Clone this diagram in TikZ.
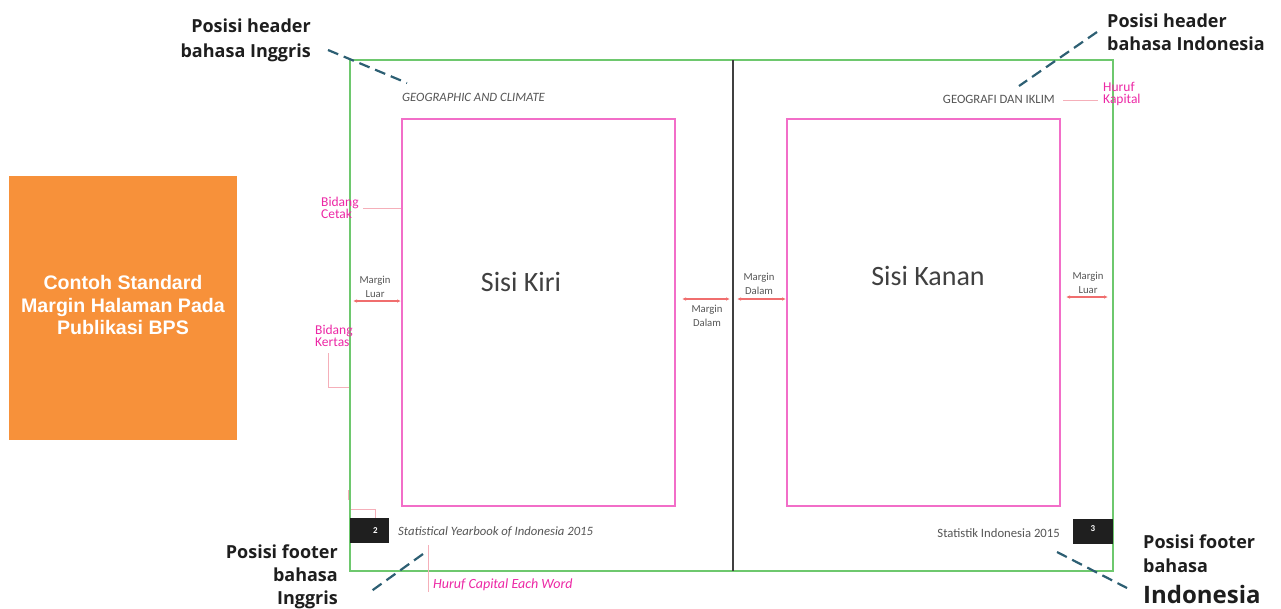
\documentclass[tikz,border=0pt]{standalone}
\usepackage{fontspec}
\usepackage{xcolor}
\usetikzlibrary{arrows.meta,positioning}
\setmainfont{Carlito}
\newfontfamily\calloutfont{Open Sans}
\newfontfamily\panelfont{Liberation Sans}
\definecolor{bpsorange}{RGB}{247,145,58}
\definecolor{pagegreen}{RGB}{110,200,110}
\definecolor{areapink}{RGB}{242,110,200}
\definecolor{notepink}{RGB}{236,40,165}
\definecolor{arrowred}{RGB}{240,110,110}
\definecolor{leadpink}{RGB}{245,175,185}
\definecolor{dashteal}{RGB}{45,95,115}
\definecolor{inkgray}{RGB}{85,85,85}
\definecolor{callink}{RGB}{30,30,30}

\begin{document}
\begin{tikzpicture}[x=1pt,y=-1pt,
    callout/.style={font=\calloutfont\bfseries\fontsize{18}{24}\selectfont, text=callink, inner sep=0pt},
    pointer/.style={dashteal, line width=2.2pt, dash pattern=on 11pt off 6pt},
    note/.style={font=\fontsize{13.5}{12.5}\selectfont, text=notepink, inner sep=0pt, align=left},
    small/.style={font=\fontsize{10.7}{14}\selectfont, text=inkgray, inner sep=0pt, align=center},
    running/.style={font=\fontsize{12.7}{14}\selectfont, text=inkgray, inner sep=0pt},
    margin/.style={arrowred, line width=1.1pt, {Latex[length=4pt,width=3.5pt]}-{Latex[length=4pt,width=3.5pt]}},
    lead/.style={leadpink, line width=0.7pt},
    folio/.style={fill=black!88, text=white, font=\bfseries\fontsize{9}{9}\selectfont, inner sep=0pt}]
    \useasboundingbox (0,0) rectangle (1281,608);

    % Title panel
    \node[fill=bpsorange, minimum width=228pt, minimum height=264pt, inner sep=0pt] (panel) at (123,308) {};
    \node[font=\panelfont\bfseries\fontsize{19.6}{22.5}\selectfont, text=white, align=center] (title) at (123,305)
        {Contoh Standard\\Margin Halaman Pada\\Publikasi BPS};

    % Paper, spine and print areas
    \draw[pagegreen, line width=1.8pt] (350,60) rectangle (1113,571);
    \draw[black!75, line width=1.2pt] (733,60) -- (733,571);
    \draw[areapink, line width=1.8pt] (402,119) rectangle (675,506);
    \draw[areapink, line width=1.8pt] (787,119) rectangle (1060,506);
    \node[font=\fontsize{28}{30}\selectfont, text=black!75] (kiri) at (521,282) {Sisi Kiri};
    \node[font=\fontsize{28}{30}\selectfont, text=black!75] (kanan) at (928,276) {Sisi Kanan};

    % Headers
    \node[running, font=\itshape\fontsize{12.7}{14}\selectfont, anchor=west] (hdrL) at (402,97) {GEOGRAPHIC AND CLIMATE};
    \node[running, anchor=east] (hdrR) at (1055,99) {GEOGRAFI DAN IKLIM};

    % Footers
    \node[folio, minimum width=39pt, minimum height=25pt] (pageL) at (369.5,530.5) {\hspace{12pt}2};
    \node[running, font=\itshape\fontsize{12.7}{14}\selectfont, anchor=west] (ftrL) at (398,532) {Statistical Yearbook of Indonesia 2015};
    \node[folio, minimum width=40pt, minimum height=25pt] (pageR) at (1093,531.5) {\raisebox{5pt}{3}\hspace{18pt}};
    \node[running, anchor=east] (ftrR) at (1060,533) {Statistik Indonesia 2015};

    % Margin arrows
    \coordinate (luarL-a) at (353,301);  \coordinate (luarL-b) at (401,301);
    \coordinate (dalamL-a) at (682,299); \coordinate (dalamL-b) at (730,299);
    \coordinate (dalamR-a) at (737,299); \coordinate (dalamR-b) at (786,299);
    \coordinate (luarR-a) at (1066,297); \coordinate (luarR-b) at (1108,297);
    \draw[margin] (luarL-a) -- (luarL-b);
    \draw[margin] (dalamL-a) -- (dalamL-b);
    \draw[margin] (dalamR-a) -- (dalamR-b);
    \draw[margin] (luarR-a) -- (luarR-b);
    \node[small] (txtLuarL) at (375,287) {Margin\\Luar};
    \node[small] (txtDalamL) at (707,316) {Margin\\Dalam};
    \node[small] (txtDalamR) at (759,284) {Margin\\Dalam};
    \node[small] (txtLuarR) at (1088,283) {Margin\\Luar};

    % Pink notes
    \node[note, anchor=west] (cetak) at (321,208) {Bidang\\Cetak};
    \node[note, anchor=west] (kertas) at (315,336) {Bidang\\Kertas};
    \node[note, anchor=west] (kapital) at (1103,94) {Huruf\\Kapital};
    \node[note, font=\itshape\fontsize{14}{14}\selectfont, anchor=west] (eachword) at (433,585) {Huruf Capital Each Word};
    \coordinate (cetak-a) at (363,208);  \coordinate (cetak-b) at (401,208);
    \coordinate (kertas-a) at (328,353); \coordinate (kertas-b) at (349,387);
    \coordinate (kapital-a) at (1063,100); \coordinate (kapital-b) at (1098,100);
    \coordinate (eachword-a) at (428,545); \coordinate (eachword-b) at (428,592);
    \coordinate (corner-a) at (351,509); \coordinate (corner-b) at (375,518);
    \draw[lead] (cetak-a) -- (cetak-b);
    \draw[lead] (kertas-a) |- (kertas-b);
    \draw[lead] (kapital-a) -- (kapital-b);
    \draw[lead] (eachword-a) -- (eachword-b);
    \draw[lead] (corner-a) -| (corner-b);
    \draw[lead] (348,490) -- (348,500);

    % Callouts
    \node[callout, align=right, anchor=east, font=\calloutfont\bfseries\fontsize{18}{25}\selectfont] (posHdrL) at (311,40) {Posisi header\\bahasa Inggris};
    \node[callout, align=left, anchor=west, font=\calloutfont\bfseries\fontsize{18}{23}\selectfont] (posHdrR) at (1107,32) {Posisi header\\bahasa Indonesia};
    \node[callout, align=right, anchor=east, font=\calloutfont\bfseries\fontsize{18}{23}\selectfont] (posFtrL) at (338,577) {Posisi footer\\bahasa\\Inggris};
    \node[callout, align=left, anchor=north west, font=\calloutfont\bfseries\fontsize{18}{24}\selectfont] (posFtrR) at (1143,535)
        {Posisi footer\\bahasa\\[7pt]{\fontsize{24}{28}\selectfont Indonesia}};

    % Dashed pointers
    \coordinate (ptHdrL-a) at (328,50);   \coordinate (ptHdrL-b) at (407,83);
    \coordinate (ptHdrR-a) at (1097,32);  \coordinate (ptHdrR-b) at (1019,86);
    \coordinate (ptFtrL-a) at (423,554);  \coordinate (ptFtrL-b) at (370,592);
    \coordinate (ptFtrR-a) at (1057,552); \coordinate (ptFtrR-b) at (1127,588);
    \draw[pointer] (ptHdrL-a) -- (ptHdrL-b);
    \draw[pointer] (ptHdrR-a) -- (ptHdrR-b);
    \draw[pointer] (ptFtrL-a) -- (ptFtrL-b);
    \draw[pointer] (ptFtrR-a) -- (ptFtrR-b);
\end{tikzpicture}
\end{document}
